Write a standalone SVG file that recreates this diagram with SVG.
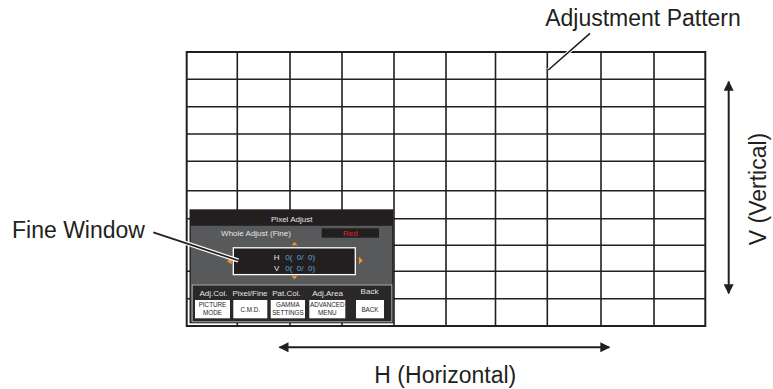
<svg xmlns="http://www.w3.org/2000/svg" width="773" height="389" viewBox="0 0 773 389">
<defs>
<style>
.grid line{stroke:#231f20;stroke-width:1.6}
.big{font-family:"Liberation Sans",Arial,Helvetica,sans-serif;font-size:23px;fill:#231f20}
.sm{font-family:"Liberation Sans",Arial,Helvetica,sans-serif;font-size:8px;fill:#e6e6e6;text-anchor:middle}
.btn{fill:#ffffff}
.bt{font-family:"Liberation Sans",Arial,Helvetica,sans-serif;font-size:6.3px;fill:#231f20;text-anchor:middle}
.tri{fill:#f7941d}
.arr{stroke:#231f20;stroke-width:2;fill:none}
</style>
<marker id="ah" viewBox="0 0 10 10" refX="9" refY="5" markerWidth="5.5" markerHeight="5" markerUnits="strokeWidth" orient="auto-start-reverse">
<path d="M0,0 L10,5 L0,10 z" fill="#231f20"/>
</marker>
</defs>
<rect width="773" height="389" fill="#ffffff"/>
<g id="adjustment-pattern" class="grid">
<rect x="186.7" y="52" width="518.6" height="274" fill="#ffffff" stroke="#231f20" stroke-width="2"/>
<line x1="237.3" y1="52" x2="237.3" y2="326"/>
<line x1="290" y1="52" x2="290" y2="326"/>
<line x1="342" y1="52" x2="342" y2="326"/>
<line x1="394" y1="52" x2="394" y2="326"/>
<line x1="446" y1="52" x2="446" y2="326"/>
<line x1="495.5" y1="52" x2="495.5" y2="326"/>
<line x1="547.3" y1="52" x2="547.3" y2="326"/>
<line x1="601" y1="52" x2="601" y2="326"/>
<line x1="654" y1="52" x2="654" y2="326"/>
<line x1="186.7" y1="79.3" x2="705.3" y2="79.3"/>
<line x1="186.7" y1="106.7" x2="705.3" y2="106.7"/>
<line x1="186.7" y1="134" x2="705.3" y2="134"/>
<line x1="186.7" y1="161.3" x2="705.3" y2="161.3"/>
<line x1="186.7" y1="190.7" x2="705.3" y2="190.7"/>
<line x1="186.7" y1="218.7" x2="705.3" y2="218.7"/>
<line x1="186.7" y1="245.3" x2="705.3" y2="245.3"/>
<line x1="186.7" y1="271.3" x2="705.3" y2="271.3"/>
<line x1="186.7" y1="298.7" x2="705.3" y2="298.7"/>
</g>
<g id="fine-window">
<rect x="189.5" y="209.3" width="204" height="114" fill="#231f20"/>
<rect x="190.8" y="225.8" width="201.4" height="96" fill="#58595b"/>
<text class="sm" x="291.7" y="221.5">Pixel Adjust</text>
<text class="sm" x="256" y="236">Whole Adjust (Fine)</text>
<rect x="321.7" y="228.3" width="57.3" height="9.4" fill="#231f20"/>
<text class="sm" x="350.3" y="236" style="fill:#e0242c">Red</text>
<polygon class="tri" points="291.7,245.3 297.3,245.3 294.5,241.7"/>
<polygon class="tri" points="291.7,276 297.3,276 294.5,279.6"/>
<polygon class="tri" points="231.7,258.3 231.7,264.3 226.8,261.3"/>
<polygon class="tri" points="359,256.7 359,264.3 362.8,260.5"/>
<rect x="233.3" y="247.8" width="122" height="26.8" fill="#231f20" stroke="#ffffff" stroke-width="1.3"/>
<text class="sm" x="276.7" y="260">H</text>
<text class="sm" x="276.7" y="271">V</text>
<text class="sm" x="285.3" y="260" xml:space="preserve" style="fill:#5aa7da;text-anchor:start">0(  0/  0)</text>
<text class="sm" x="285.3" y="271" xml:space="preserve" style="fill:#5aa7da;text-anchor:start">0(  0/  0)</text>
<rect x="192.2" y="285" width="199.6" height="36.8" fill="#2a2829" stroke="#a7a9ac" stroke-width="1"/>
<text class="sm" x="213.5" y="295.7">Adj.Col.</text>
<text class="sm" x="250" y="295.7">Pixel/Fine</text>
<text class="sm" x="286.5" y="295.7">Pat.Col.</text>
<text class="sm" x="327.5" y="295.7">Adj.Area</text>
<text class="sm" x="369.5" y="294.3">Back</text>
<rect class="btn" x="195" y="300" width="35" height="18.3"/>
<rect class="btn" x="233.3" y="300" width="34" height="18.3"/>
<rect class="btn" x="270.7" y="300" width="34.3" height="18.3"/>
<rect class="btn" x="309.3" y="300" width="36" height="18.3"/>
<rect class="btn" x="356" y="300" width="28" height="18.3"/>
<text class="bt" x="212.5" y="307">PICTURE</text>
<text class="bt" x="212.5" y="315">MODE</text>
<text class="bt" x="250.3" y="311.5">C.M.D.</text>
<text class="bt" x="287.9" y="307">GAMMA</text>
<text class="bt" x="287.9" y="315">SETTINGS</text>
<text class="bt" x="327.3" y="307">ADVANCED</text>
<text class="bt" x="327.3" y="315">MENU</text>
<text class="bt" x="370" y="311.5">BACK</text>
</g>
<g id="connectors">
<line x1="153.3" y1="232.3" x2="238.3" y2="260.5" stroke="#ffffff" stroke-width="4.2"/>
<line x1="153.3" y1="232.3" x2="238.3" y2="260.5" stroke="#231f20" stroke-width="1.8"/>
<line x1="590" y1="33.3" x2="548.3" y2="70" stroke="#ffffff" stroke-width="3.6"/>
<line x1="590" y1="33.3" x2="548.3" y2="70" stroke="#231f20" stroke-width="1.6"/>
<line class="arr" x1="279.5" y1="347.3" x2="609.3" y2="347.3" marker-start="url(#ah)" marker-end="url(#ah)"/>
<line class="arr" x1="728.7" y1="81.7" x2="728.7" y2="293.3" marker-start="url(#ah)" marker-end="url(#ah)"/>
</g>
<g id="labels">
<text class="big" x="643" y="26" text-anchor="middle">Adjustment Pattern</text>
<text class="big" x="12" y="238.3">Fine Window</text>
<text class="big" x="445.3" y="383.3" text-anchor="middle">H (Horizontal)</text>
<text class="big" transform="translate(766,189) rotate(-90)" text-anchor="middle">V (Vertical)</text>
</g>
</svg>
